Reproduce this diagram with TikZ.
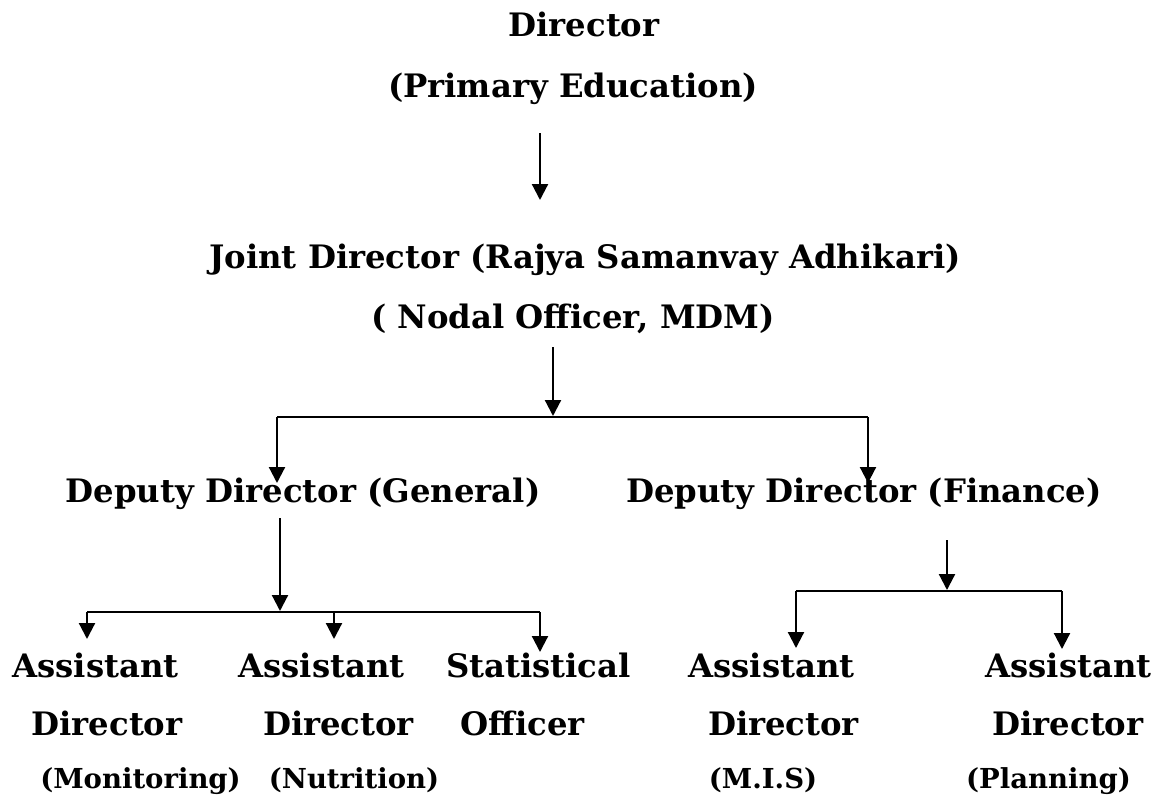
\documentclass[tikz,border=0pt]{standalone}
\usepackage{fontspec}
\setmainfont{DejaVu Serif}
\usetikzlibrary{arrows.meta}
\tikzset{
  lbl/.style={anchor=base,inner sep=0pt,font=\bfseries\fontsize{32.3}{36}\selectfont},
  sub/.style={anchor=base,inner sep=0pt,font=\bfseries\fontsize{27.5}{30}\selectfont},
  conn/.style={line width=2.2pt},
  arr/.style={conn,-{Triangle[length=16pt,width=16pt]}}
}
\begin{document}
\begin{tikzpicture}[x=1pt,y=-1pt]
\useasboundingbox (0,0) rectangle (1154,798);
% texts
\node[lbl] (d1) at (584,36) {Director};
\node[lbl] (d2) at (573,97) {(Primary Education)};
\node[lbl] (j1) at (585,268) {Joint Director (Rajya Samanvay Adhikari)};
\node[lbl] (j2) at (573,328) {( Nodal Officer, MDM)};
\node[lbl] (ddg) at (303,502) {Deputy Director (General)};
\node[lbl] (ddf) at (864,502) {Deputy Director (Finance)};
\node[lbl] (m1) at (95.5,677) {Assistant};
\node[lbl] (m2) at (107,735) {Director};
\node[sub] (m3) at (140.5,788) {(Monitoring)};
\node[lbl] (n1) at (321.5,677) {Assistant};
\node[lbl] (n2) at (338.5,735) {Director};
\node[sub] (n3) at (354,788) {(Nutrition)};
\node[lbl] (s1) at (538.5,677) {Statistical};
\node[lbl] (s2) at (522.5,735) {Officer};
\node[lbl] (i1) at (771.5,677) {Assistant};
\node[lbl] (i2) at (783.5,735) {Director};
\node[sub] (i3) at (763,788) {(M.I.S)};
\node[lbl] (p1) at (1068.5,677) {Assistant};
\node[lbl] (p2) at (1068,735) {Director};
\node[sub] (p3) at (1048.5,788) {(Planning)};
% coordinates
\coordinate (a1s) at (540,133);
\coordinate (a1e) at (540,200);
\coordinate (a2s) at (553,347);
\coordinate (a2e) at (553,416);
\coordinate (b2l) at (277,417);
\coordinate (b2r) at (868,417);
\coordinate (t2l) at (277,483);
\coordinate (t2r) at (868,483);
\coordinate (a3s) at (280,518);
\coordinate (a3e) at (280,611);
\coordinate (b3l) at (87,612);
\coordinate (b3m) at (334,612);
\coordinate (b3r) at (540,612);
\coordinate (t3l) at (87,639);
\coordinate (t3m) at (334,639);
\coordinate (t3r) at (540,652);
\coordinate (a4s) at (947,540);
\coordinate (a4e) at (947,590);
\coordinate (b4l) at (796,591);
\coordinate (b4r) at (1062,591);
\coordinate (t4l) at (796,648);
\coordinate (t4r) at (1062,649);
% connectors
\draw[arr] (a1s) -- (a1e);
\draw[arr] (a2s) -- (a2e);
\draw[conn] (b2l) -- (b2r);
\draw[arr] (b2l) -- (t2l);
\draw[arr] (b2r) -- (t2r);
\draw[arr] (a3s) -- (a3e);
\draw[conn] (b3l) -- (b3r);
\draw[arr] (b3l) -- (t3l);
\draw[arr] (b3m) -- (t3m);
\draw[arr] (b3r) -- (t3r);
\draw[arr] (a4s) -- (a4e);
\draw[conn] (b4l) -- (b4r);
\draw[arr] (b4l) -- (t4l);
\draw[arr] (b4r) -- (t4r);
\end{tikzpicture}
\end{document}
